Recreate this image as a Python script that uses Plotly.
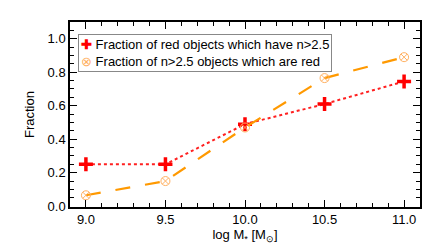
import plotly.graph_objects as go

log_mass = [9.0, 9.5, 10.0, 10.5, 11.0]
frac_red_with_n = [0.25, 0.25, 0.49, 0.61, 0.745]
frac_n_which_red = [0.065, 0.15, 0.47, 0.765, 0.89]
names = ["Fraction of red objects which have n>2.5",
         "Fraction of n>2.5 objects which are red"]

red_marker = dict(symbol="cross-thin", size=10, color="red", line=dict(color="red", width=3.5))
orange_marker = dict(symbol="circle-x-open", size=9, color="#ffb060", line=dict(color="#ffb060", width=1))

fig = go.Figure()
fig.add_trace(go.Scatter(
    x=log_mass, y=frac_red_with_n, mode="lines+markers", name=names[0], showlegend=False,
    line=dict(color="#ff2020", dash="dot", width=2), marker=red_marker,
))
fig.add_trace(go.Scatter(
    x=log_mass, y=frac_n_which_red, mode="lines+markers", name=names[1], showlegend=False,
    line=dict(color="#ff9900", dash="longdash", width=2.2), marker=orange_marker,
))

legend_text = ("<span style='color:red'><b>✚</b></span> " + names[0] + "<br>"
               "<span style='color:#ffb060'>⊗</span> " + names[1])
fig.add_annotation(
    xref="paper", yref="paper", x=0.023, y=0.935, xanchor="left", yanchor="top",
    text=legend_text, showarrow=False, align="left",
    font=dict(size=13, color="black"),
    bgcolor="white", bordercolor="#888888", borderwidth=1, borderpad=2,
)

axis_common = dict(
    showgrid=False, zeroline=False, showline=True, linecolor="black", linewidth=1.5,
    mirror="allticks", ticks="inside", tickcolor="black", ticklen=7, tickwidth=1,
    tickfont=dict(family="Liberation Sans, Arial, sans-serif", size=13, color="black"),
    automargin=False,
)
fig.update_layout(
    width=440, height=252,
    margin=dict(l=62, r=28, t=14, b=53),
    paper_bgcolor="white", plot_bgcolor="white",
    font=dict(family="Liberation Sans, Arial, sans-serif", color="black"),
    showlegend=False,
    xaxis=dict(range=[8.9, 11.1], tickvals=[9.0, 9.5, 10.0, 10.5, 11.0],
               ticktext=["9.0", "9.5", "10.0", "10.5", "11.0"],
               minor=dict(dtick=0.1, ticks="inside", ticklen=4, tickcolor="black"),
               title=dict(text="log M<sub>*</sub> [M<sub>⊙</sub>]", font=dict(size=13), standoff=2),
               **axis_common),
    yaxis=dict(range=[-0.005, 1.1], tickvals=[0.0, 0.2, 0.4, 0.6, 0.8, 1.0],
               ticktext=["0.0", "0.2", "0.4", "0.6", "0.8", "1.0"],
               minor=dict(dtick=0.05, ticks="inside", ticklen=4, tickcolor="black"),
               title=dict(text="Fraction", font=dict(size=13), standoff=10),
               **axis_common),
)
fig.write_html("out.html")
